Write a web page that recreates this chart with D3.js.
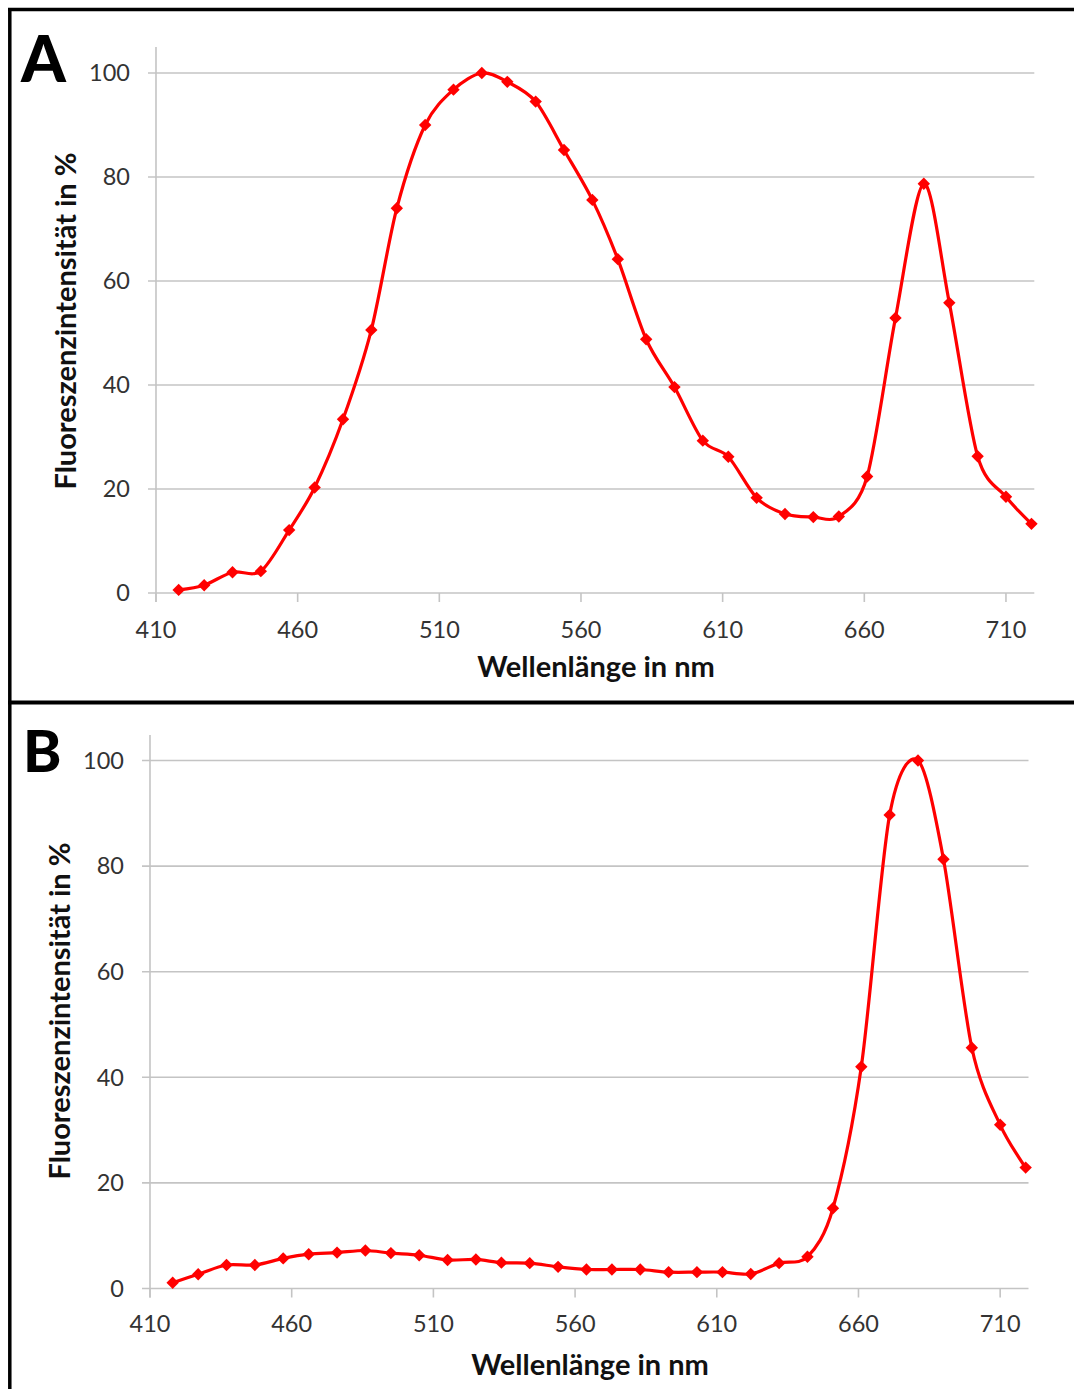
<!DOCTYPE html>
<html>
<head>
<meta charset="utf-8">
<script src="https://cdn.jsdelivr.net/npm/d3@7"></script>
<style>
  html, body { margin: 0; padding: 0; background: #fff; }
  svg { display: block; }
</style>
</head>
<body>
<svg id="chart" width="1074" height="1389"></svg>
<script>
// ---------------- DATA ----------------
const wavelengths = [418, 427, 437, 447, 457, 466, 476, 486, 495, 505, 515, 525, 534, 544, 554, 564,
                     573, 583, 593, 603, 612, 622, 632, 642, 651, 661, 671, 681, 690, 700, 710, 719];
const intensityA = [0.6, 1.5, 4.0, 4.2, 12.1, 20.3, 33.4, 50.6, 74.0, 90.0, 96.8, 100, 98.3, 94.5, 85.2, 75.6,
                    64.2, 48.8, 39.6, 29.3, 26.2, 18.3, 15.2, 14.6, 14.7, 22.4, 52.9, 78.7, 55.8, 26.3, 18.5, 13.3];
const intensityB = [1.1, 2.7, 4.45, 4.45, 5.7, 6.5, 6.8, 7.2, 6.7, 6.3, 5.4, 5.5, 4.9, 4.8, 4.1, 3.6,
                    3.6, 3.6, 3.1, 3.1, 3.1, 2.75, 4.8, 6.0, 15.2, 42.0, 89.7, 100, 81.3, 45.6, 31.0, 22.9];
const xTicks = [410, 460, 510, 560, 610, 660, 710];
const yTicks = [0, 20, 40, 60, 80, 100];
const panelLabels = ["A", "B"];
const xTitle = "Wellenlänge in nm";
const yTitle = "Fluoreszenzintensität in %";

// ---------------- LAYOUT ----------------
const svg = d3.select("#chart");
const FONT = "Lato, 'Open Sans', 'DejaVu Sans', sans-serif";
const RED = "#ff0000";
const GRID = "#c4c4c4";

const panels = [
  { label: panelLabels[0], values: intensityA,
    x0: 156, x1: 1034.3, y0: 593, y100: 73, axisTop: 47,
    labelPos: [21, 82], labelSize: 64,
    yLabRight: 130, xLabY: 630, xTitlePos: [596, 667], yTitlePos: [66, 321] },
  { label: panelLabels[1], values: intensityB,
    x0: 150, x1: 1028.5, y0: 1288.5, y100: 760.5, axisTop: 735,
    labelPos: [23, 772], labelSize: 58,
    yLabRight: 124, xLabY: 1324, xTitlePos: [590, 1365], yTitlePos: [60, 1011] }
];

// frame lines
const frame = svg.append("g").attr("stroke", "#000").attr("fill", "none");
frame.append("line").attr("x1", 8).attr("x2", 1074).attr("y1", 9.5).attr("y2", 9.5).attr("stroke-width", 3.5);
frame.append("line").attr("x1", 9.8).attr("x2", 9.8).attr("y1", 8).attr("y2", 1389).attr("stroke-width", 3.5);
frame.append("line").attr("x1", 8).attr("x2", 1074).attr("y1", 702.5).attr("y2", 702.5).attr("stroke-width", 4);

const diamond = r => `M0,${-r}L${r},0L0,${r}L${-r},0Z`;

panels.forEach(p => {
  const g = svg.append("g");
  const x = d3.scaleLinear().domain([410, 720]).range([p.x0, p.x1]);
  const y = d3.scaleLinear().domain([0, 100]).range([p.y0, p.y100]);

  // horizontal gridlines (with left tick extension)
  g.append("g").selectAll("line").data(yTicks).join("line")
    .attr("x1", x(410) - 8).attr("x2", x(720))
    .attr("y1", d => y(d)).attr("y2", d => y(d))
    .attr("stroke", GRID).attr("stroke-width", 1.6);

  // y axis line
  g.append("line").attr("x1", x(410)).attr("x2", x(410))
    .attr("y1", p.axisTop).attr("y2", y(0) + 9)
    .attr("stroke", GRID).attr("stroke-width", 1.6);

  // x ticks
  g.append("g").selectAll("line").data(xTicks).join("line")
    .attr("x1", d => x(d)).attr("x2", d => x(d))
    .attr("y1", y(0)).attr("y2", y(0) + 9)
    .attr("stroke", GRID).attr("stroke-width", 1.6);

  // y tick labels
  g.append("g").selectAll("text").data(yTicks).join("text")
    .attr("x", p.yLabRight).attr("y", d => y(d))
    .attr("dy", "0.35em").attr("text-anchor", "end")
    .attr("font-family", FONT).attr("font-size", 23.5).attr("fill", "#333")
    .text(d => d);

  // x tick labels
  g.append("g").selectAll("text").data(xTicks).join("text")
    .attr("x", d => x(d)).attr("y", p.xLabY)
    .attr("dy", "0.35em").attr("text-anchor", "middle")
    .attr("font-family", FONT).attr("font-size", 23.5).attr("fill", "#333")
    .text(d => d);

  // axis titles
  g.append("text").attr("x", p.xTitlePos[0]).attr("y", p.xTitlePos[1])
    .attr("dy", "0.35em").attr("text-anchor", "middle")
    .attr("font-family", FONT).attr("font-weight", "bold").attr("font-size", 29).attr("fill", "#111")
    .text(xTitle);
  g.append("text")
    .attr("transform", `translate(${p.yTitlePos[0]},${p.yTitlePos[1]}) rotate(-90)`)
    .attr("dy", "0.35em").attr("text-anchor", "middle")
    .attr("font-family", FONT).attr("font-weight", "bold").attr("font-size", 29).attr("fill", "#111")
    .text(yTitle);

  // panel label
  g.append("text").attr("x", p.labelPos[0]).attr("y", p.labelPos[1])
    .attr("font-family", FONT).attr("font-weight", 900).attr("font-size", p.labelSize).attr("fill", "#000")
    .text(p.label);

  // data
  const pts = wavelengths.map((w, i) => [w, p.values[i]]);
  const line = d3.line().x(d => x(d[0])).y(d => y(d[1])).curve(d3.curveCardinal.tension(0.1));
  g.append("path").datum(pts).attr("d", line)
    .attr("fill", "none").attr("stroke", RED).attr("stroke-width", 3.2).attr("stroke-linejoin", "round");
  g.append("g").selectAll("path").data(pts).join("path")
    .attr("transform", d => `translate(${x(d[0])},${y(d[1])})`)
    .attr("d", diamond(6.2)).attr("fill", RED);
});
</script>
</body>
</html>
